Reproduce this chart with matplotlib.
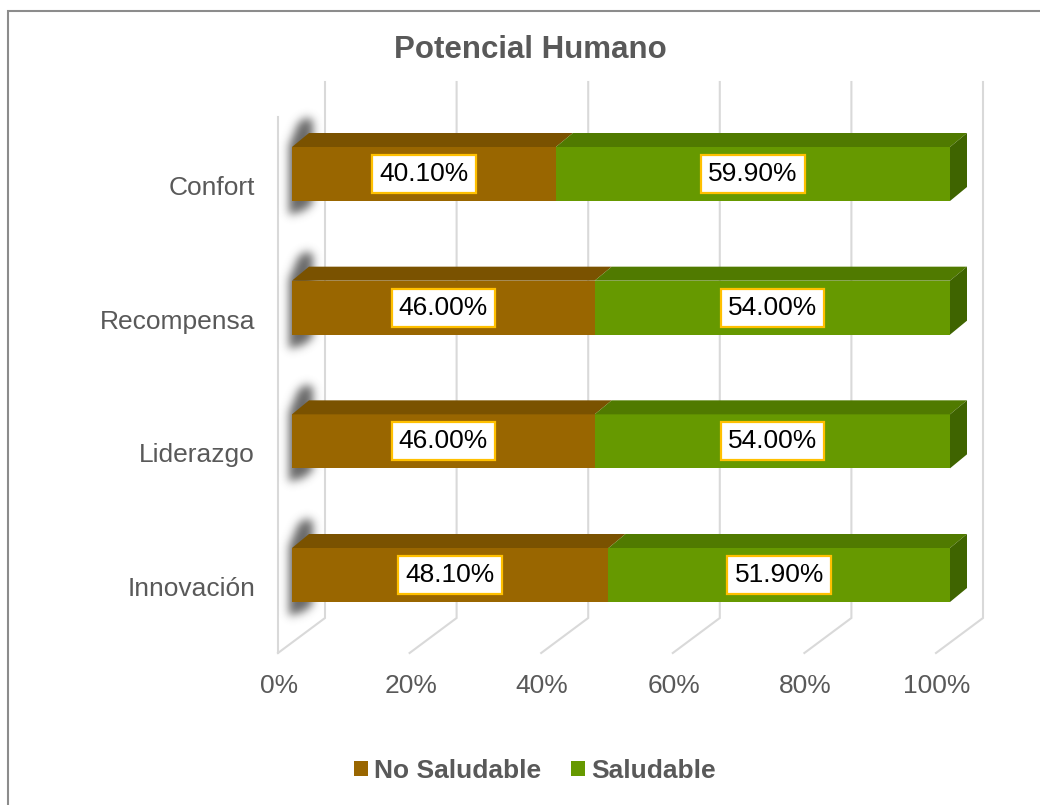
import numpy as np
import matplotlib
matplotlib.use("Agg")
import matplotlib.pyplot as plt
from matplotlib.patches import Rectangle, Polygon, Patch
from matplotlib.path import Path

plt.rcParams['font.family'] = ['Liberation Sans', 'DejaVu Sans']

# data
categories = ['Innovación', 'Liderazgo', 'Recompensa', 'Confort']
no_saludable = [48.1, 46.0, 46.0, 40.1]
saludable = [51.9, 54.0, 54.0, 59.9]
series_names = ['No Saludable', 'Saludable']
ticks = [0, 20, 40, 60, 80, 100]

TEXT = '#595959'
GRID = '#d9d9d9'
FRONT = ['#996600', '#669900']
TOP = ['#7a5200', '#507a00']
SIDE = ['#5c3d00', '#3f6400']

fig = plt.figure(figsize=(10.4, 8.05), dpi=100)
ax = fig.add_axes([292 / 1040, 0.18609, 658 / 1040, 0.69739])
ax.set_xlim(0, 100)
ax.set_ylim(-0.6, 3.6)
ax.axis('off')

# pixel -> data scale of the plot box
SX = 6.58     # px per percent
SY = 133.67   # px per category step
BAR_H = 54 / SY
DDX, DDY = 17 / SX, 14 / SY          # bar depth
FLOOR_FRONT = (-14 / SX, -78 / SY)   # front edge of the floor, relative to bar plane
FLOOR_BACK = (33 / SX, -43 / SY)
WALL_TOP = 493 / SY
SIDE_TOP = 458 / SY

# walls and floor gridlines
for t in ticks:
    xb = t + FLOOR_BACK[0]
    xf = t + FLOOR_FRONT[0]
    ax.plot([xb, xb, xf], [WALL_TOP, FLOOR_BACK[1], FLOOR_FRONT[1]],
            color=GRID, lw=1.5, clip_on=False, zorder=0.5, solid_joinstyle='miter')
ax.plot([FLOOR_FRONT[0]] * 2, [FLOOR_FRONT[1], SIDE_TOP], color=GRID, lw=1.5,
        clip_on=False, zorder=0.5)


def blur(a, sigma):
    r = np.arange(-15, 16)
    k = np.exp(-0.5 * (r / sigma) ** 2)
    k /= k.sum()
    a = np.apply_along_axis(lambda v: np.convolve(v, k, mode='same'), 0, a)
    a = np.apply_along_axis(lambda v: np.convolve(v, k, mode='same'), 1, a)
    return a


def draw_shadow(i):
    # soft shadow of the bar end on the left wall
    top, bot = i + BAR_H / 2, i - BAR_H / 2
    pts = [(-3, bot - 14 / SY), (-3, top + 2 / SY), (6, top + 24 / SY),
           (14, top + 30 / SY), (21, top + 27 / SY), (21, bot - 2 / SY),
           (12, bot - 10 / SY)]
    poly = Path([(px / SX, y) for px, y in pts])
    x0, x1 = -20 / SX, 40 / SX
    y0, y1 = bot - 45 / SY, top + 60 / SY
    nx = 60
    ny = int(round((y1 - y0) * SY))
    xs = np.linspace(x0, x1, nx)
    ys = np.linspace(y0, y1, ny)
    gx, gy = np.meshgrid(xs, ys)
    m = poly.contains_points(np.c_[gx.ravel(), gy.ravel()]).reshape(ny, nx)
    m = blur(m.astype(float), 4.5)
    img = np.zeros((ny, nx, 4))
    img[..., :3] = 0.3
    img[..., 3] = np.clip(m * 0.85, 0, 1)
    ax.imshow(img, extent=(x0, x1, y0, y1), origin='lower', aspect='auto',
              interpolation='bilinear', zorder=1, clip_on=False)


for i, (a, b) in enumerate(zip(no_saludable, saludable)):
    draw_shadow(i)
    top, bot = i + BAR_H / 2, i - BAR_H / 2
    left = 0
    for k, w in enumerate([a, b]):
        ax.add_patch(Rectangle((left, bot), w, BAR_H, facecolor=FRONT[k],
                               edgecolor='none', zorder=2, clip_on=False))
        ax.add_patch(Polygon([(left, top), (left + w, top),
                              (left + w + DDX, top + DDY), (left + DDX, top + DDY)],
                             closed=True, facecolor=TOP[k], edgecolor='none',
                             zorder=2, clip_on=False))
        ax.text(left + w / 2, i, f'{w:.2f}%', ha='center', va='center',
                fontsize=19, color='black', zorder=4,
                bbox=dict(boxstyle='square,pad=0.27', facecolor='white',
                          edgecolor='#ffc000', linewidth=1.6))
        left += w
    ax.add_patch(Polygon([(left, bot), (left, top), (left + DDX, top + DDY),
                          (left + DDX, bot + DDY)], closed=True,
                         facecolor=SIDE[1], edgecolor='none', zorder=2, clip_on=False))
    ax.text(-37 / SX, i - 21 / SY, categories[i], ha='right', va='baseline',
            fontsize=19, color=TEXT)

ax.set_ylim(-0.6, 3.6)
ax.set_xlim(0, 100)

# percentage axis along the front edge of the floor
for t in ticks:
    ax.text(t + FLOOR_FRONT[0] + 1 / SX, (575 - 693) / SY, f'{t}%', ha='center',
            va='baseline', fontsize=19, color=TEXT)

fig.text(530.5 / 1040, 1 - 58 / 805, 'Potencial Humano', ha='center',
         va='baseline', fontsize=22.5, fontweight='bold', color=TEXT)

handles = [Patch(facecolor=c, edgecolor='none') for c in FRONT]
fig.legend(handles, series_names, loc='center', bbox_to_anchor=(535 / 1040, 1 - 771 / 805),
           ncol=2, frameon=False, handlelength=0.53, handleheight=0.53,
           handletextpad=0.23, columnspacing=1.15,
           prop={'size': 19, 'weight': 'bold'}, labelcolor=TEXT)

# chart area outline
fig.add_artist(Rectangle((8 / 1040, -0.1), 1.2, 1.1 - 11 / 805, transform=fig.transFigure,
                         fill=False, edgecolor='#8c8c8c', lw=1.5))

fig.savefig('out.png', dpi=100)
